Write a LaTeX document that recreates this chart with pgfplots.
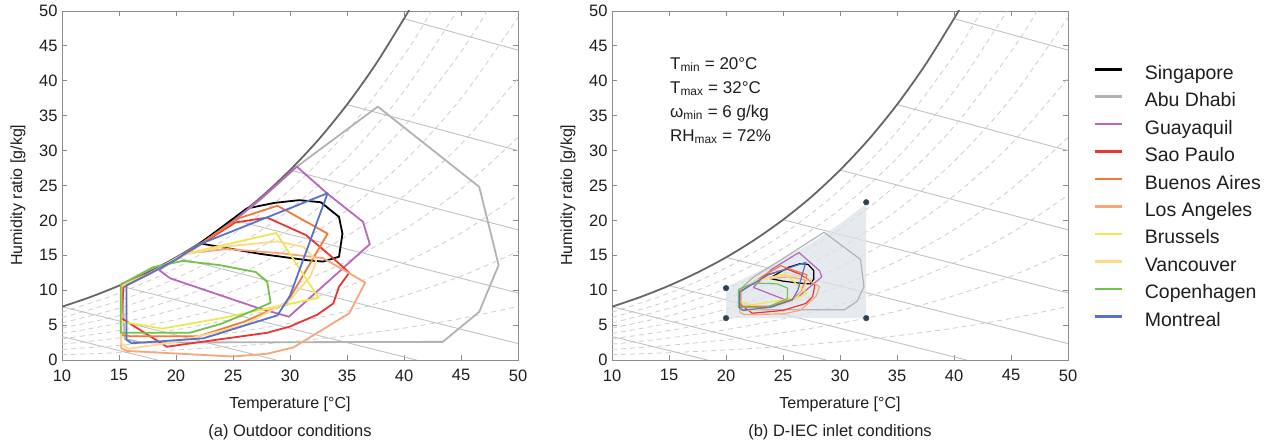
\documentclass[border=0pt]{standalone}
\usepackage{fontspec}
\setmainfont{Liberation Sans}
\usepackage{pgfplots}
\pgfplotsset{compat=1.18}

\definecolor{sing}{HTML}{000000}
\definecolor{abud}{HTML}{B3B3B3}
\definecolor{guay}{HTML}{B966BC}
\definecolor{saop}{HTML}{EE3333}
\definecolor{buen}{HTML}{F27A38}
\definecolor{losa}{HTML}{F9A577}
\definecolor{brus}{HTML}{EEE84E}
\definecolor{vanc}{HTML}{FDD98E}
\definecolor{cope}{HTML}{72C24C}
\definecolor{mont}{HTML}{5572CF}
\definecolor{satc}{HTML}{666666}
\definecolor{gridc}{HTML}{CDCDCD}
\definecolor{wbc}{HTML}{C2C2C2}
\definecolor{zonec}{HTML}{DCE3E8}
\definecolor{dotc}{HTML}{2E4352}
\definecolor{txt}{HTML}{1E1E1E}

% psychrometric background: RH lines (10..90 %), wet-bulb lines, saturation
\newcommand\psybg{%
\addplot[gridc, dash pattern=on 5pt off 4pt, line width=0.8pt, smooth, forget plot] coordinates {(10,0.755)(15,1.049)(20,1.439)(25,1.952)(30,2.618)(35,3.475)(40,4.567)(45,5.946)(50,7.676)};
\addplot[gridc, dash pattern=on 5pt off 4pt, line width=0.8pt, smooth, forget plot] coordinates {(10,1.512)(15,2.101)(20,2.885)(25,3.916)(30,5.258)(35,6.989)(40,9.201)(45,12.008)(50,15.54)};
\addplot[gridc, dash pattern=on 5pt off 4pt, line width=0.8pt, smooth, forget plot] coordinates {(10,2.270)(15,3.157)(20,4.338)(25,5.893)(30,7.921)(35,10.542)(40,13.904)(45,18.187)(50,23.61)};
\addplot[gridc, dash pattern=on 5pt off 4pt, line width=0.8pt, smooth, forget plot] coordinates {(10,3.031)(15,4.217)(20,5.798)(25,7.882)(30,10.606)(35,14.136)(40,18.678)(45,24.487)(50,31.89)};
\addplot[gridc, dash pattern=on 5pt off 4pt, line width=0.8pt, smooth, forget plot] coordinates {(10,3.793)(15,5.280)(20,7.264)(25,9.884)(30,13.314)(35,17.771)(40,23.524)(45,30.914)(50,40.37)};
\addplot[gridc, dash pattern=on 5pt off 4pt, line width=0.8pt, smooth, forget plot] coordinates {(10,4.557)(15,6.347)(20,8.737)(25,11.899)(30,16.046)(35,21.448)(40,28.444)(45,37.469)(50,49.08)};
\addplot[gridc, dash pattern=on 5pt off 4pt, line width=0.8pt, smooth, forget plot] coordinates {(10,5.323)(15,7.417)(20,10.217)(25,13.926)(30,18.801)(35,25.167)(40,33.440)(45,44.157)(47.3,50.05)};
\addplot[gridc, dash pattern=on 5pt off 4pt, line width=0.8pt, smooth, forget plot] coordinates {(10,6.091)(15,8.491)(20,11.704)(25,15.967)(30,21.580)(35,28.929)(40,38.512)(44.65,50.0)};
\addplot[gridc, dash pattern=on 5pt off 4pt, line width=0.8pt, smooth, forget plot] coordinates {(10,6.860)(15,9.569)(20,13.198)(25,18.021)(30,24.384)(35,32.736)(40,43.664)(42.4,50.0)};
\addplot[wbc, line width=0.9pt, forget plot] coordinates {(10,3.37)(18.37,0)};
\addplot[wbc, line width=0.9pt, forget plot] coordinates {(10,7.63)(28.8,0)};
\addplot[wbc, line width=0.9pt, forget plot] coordinates {(15,10.65)(41.1,0)};
\addplot[wbc, line width=0.9pt, forget plot] coordinates {(20,14.70)(50,2.35)};
\addplot[wbc, line width=0.9pt, forget plot] coordinates {(25,20.09)(50,9.61)};
\addplot[wbc, line width=0.9pt, forget plot] coordinates {(30,27.21)(50,18.65)};
\addplot[wbc, line width=0.9pt, forget plot] coordinates {(35,36.59)(50,30.0)};
\addplot[wbc, line width=0.9pt, forget plot] coordinates {(40,48.90)(50,44.4)};
\addplot[satc, line width=1.8pt, smooth, forget plot] coordinates {(10,7.632)(12.5,9.028)(15,10.651)(17.5,12.535)(20,14.70)(22.5,17.21)(25,20.09)(27.5,23.39)(30,27.21)(32.5,31.57)(35,36.59)(37.5,42.33)(40,48.90)(40.5,50.3)};
}

\tikzset{capt/.style={font=\fontsize{16.5}{19}\selectfont, text=txt}}
\pgfplotsset{
  psy/.style={
    scale only axis, width=456pt, height=349pt,
    xmin=10, xmax=50, ymin=0, ymax=50,
    xtick={10,15,...,50}, ytick={0,5,...,50},
    tick align=inside, tick pos=both, major tick length=5pt,
    axis line style={draw=black!45, line width=0.8pt},
    every tick/.append style={black!45, line width=0.8pt},
    tick label style={font=\fontsize{16.5}{19}\selectfont, text=txt},
    /pgf/number format/assume math mode=true,
    xticklabel style={yshift=-6pt},
    yticklabel style={xshift=-1pt},
    label style={font=\fontsize{16}{19}\selectfont, text=txt},
    xlabel={Temperature [°C]}, ylabel={Humidity ratio [g/kg]},
    xlabel style={at={(axis description cs:0.5,-0.128)}, anchor=center},
    ylabel style={at={(axis description cs:-0.0965,0.472)}, anchor=center},
  },
  city/.style={line width=1.8pt, line join=round},
  cityb/.style={line width=1.2pt, line join=round},
}

\begin{document}
\begin{tikzpicture}
\path[use as bounding box] (0,0) rectangle (1268pt,444pt);

% (a) outdoor conditions
\begin{axis}[psy, at={(62pt,84pt)}, anchor=south west,
  after end axis/.code={\node[capt] at (axis description cs:0.5,-0.206) {(a) Outdoor conditions};}]
\psybg
\addplot[city, sing] coordinates {(22.1,16.7)(26.2,21.7)(28.6,22.5)(30.8,22.9)(32.7,22.6)(34.3,20.5)(34.6,18.1)(34.3,14.8)(32.9,14.1)(31.5,14.3)(27.4,15.2)(22.1,16.7)};
\addplot[city, abud] coordinates {(15.3,10.55)(17.5,12.2)(20,14.4)(22.5,16.9)(25,19.8)(27.5,23.1)(30.6,27.7)(37.7,36.3)(46.6,24.8)(48.3,13.6)(46.6,6.9)(43.4,2.6)(17,2.5)(15.5,3.0)(15.3,10.55)};
\addplot[city, guay] coordinates {(18.5,12.9)(19.5,11.7)(27.1,7.5)(29.9,6.2)(37.0,16.6)(36.4,19.8)(33.3,23.8)(30.6,27.7)(27.5,23.2)(25,19.9)(22.5,17.0)(20,14.4)(18.5,12.9)};
\addplot[city, saop] coordinates {(15.4,10.5)(15.2,6.0)(19.2,1.9)(24,3.0)(28.0,3.9)(30,4.8)(32.4,6.5)(33.8,8.1)(34.3,10.5)(35.2,12.5)(33.5,15.0)(31.4,17.9)(28.0,20.4)(25.2,19.7)(22.5,16.9)(20,14.4)(17.5,12.2)(15.4,10.5)};
\addplot[city, buen] coordinates {(15.2,10.9)(15.2,3.6)(16,3.4)(22,3.4)(26,5.5)(28.5,7.3)(29.7,8.1)(33.3,18.1)(28.9,22.1)(25.5,20.3)(22.5,17.0)(20,14.5)(17.5,12.3)(15.2,10.9)};
\addplot[city, losa] coordinates {(15.2,10.7)(15.2,3.8)(15.2,1.7)(15.7,1.3)(25.0,0.5)(28.0,0.9)(30.3,1.8)(35.2,6.7)(36.6,11.1)(32.9,14.6)(29.1,15.3)(24.5,15.9)(21,15.3)(20,14.4)(17.5,12.2)(15.2,10.7)};
\addplot[city, brus] coordinates {(15.2,10.6)(15.2,5.5)(18.8,4.5)(24,6.0)(29.5,7.9)(32.5,8.9)(28.8,18.2)(20.8,15.2)(17.5,12.2)(15.2,10.6)};
\addplot[city, vanc] coordinates {(15.2,10.6)(15.2,2.4)(15.8,1.6)(20,2.6)(26,5.0)(30.0,8.6)(31.8,12.0)(32.3,14.2)(31.2,16.2)(28.9,17.0)(24,16.2)(20.5,15.0)(17.5,12.2)(15.2,10.6)};
\addplot[city, cope] coordinates {(15.15,10.8)(15.15,3.9)(21.2,3.9)(24,5.2)(26.5,6.9)(28.3,8.2)(28.0,11.2)(27.0,12.6)(23.8,13.6)(20.6,14.2)(18,13.3)(15.15,10.8)};
\addplot[city, mont] coordinates {(15.65,10.7)(15.65,2.9)(16.1,2.4)(22.4,3.1)(28.9,6.4)(30.0,9.2)(33.3,23.9)(22.1,16.6)(20,14.4)(17.5,12.2)(15.65,10.7)};
\end{axis}

% (b) D-IEC inlet conditions
\begin{axis}[psy, at={(612pt,84pt)}, anchor=south west,
  after end axis/.code={\node[capt] at (axis description cs:0.5,-0.206) {(b) D-IEC inlet conditions};},
  legend style={at={(axis description cs:1.055,0.845)}, anchor=north west,
    draw=none, fill=none, inner sep=0pt,
    font=\fontsize{19.5}{22}\selectfont, text=txt,
    nodes={inner sep=0pt, text height=14pt, text depth=4pt},
    row sep=9.44pt,
    /tikz/every odd column/.append style={column sep=22pt}},
  legend cell align=left,
  legend image code/.code={\draw[line width=2.6pt] (0pt,5pt) -- (27pt,5pt);}]
\psybg
\addplot[fill=zonec, draw=none, fill opacity=0.75, forget plot] coordinates {(20,6)(32.3,6)(32.3,22.4)(30,19.5)(27.5,16.8)(25,14.5)(22.5,12.4)(20.2,10.6)(20,10.6)(20,6)};
\addplot[cityb, sing] coordinates {(23.8,11.7)(25.5,13.3)(26.5,13.8)(27.2,13.7)(27.7,12.8)(27.7,11.6)(27.4,10.9)(26.5,11.0)(25,11.3)(23.8,11.7)};
\addplot[cityb, abud] coordinates {(21.2,10.1)(21.2,7.4)(21.5,7.2)(30.4,7.2)(31.5,8.4)(32.1,10.5)(31.8,14.4)(28.6,18.3)(26.2,15.8)(24,13.5)(22.5,12.0)(21.2,10.1)};
\addplot[cityb, guay] coordinates {(22.4,10.4)(25.4,8.5)(26.3,9.0)(28.4,11.9)(28.2,12.8)(26.4,15.4)(24,13.0)(22.4,10.4)};
\addplot[cityb, saop] coordinates {(21.3,9.8)(21.3,7.9)(22.3,6.7)(25,7.1)(27,8.1)(27.6,9.1)(27.8,10.8)(26.5,12.3)(25.4,13.0)(23.5,12.2)(21.3,9.8)};
\addplot[cityb, buen] coordinates {(21.2,9.9)(21.2,7.7)(24,7.7)(26.0,8.9)(26.6,9.8)(27.1,12.2)(24.8,13.5)(23.5,12.3)(21.2,9.9)};
\addplot[cityb, losa] coordinates {(21.2,9.9)(21.2,6.9)(21.6,6.5)(25,6.6)(26.5,7.1)(27.9,9.1)(28.2,10.5)(27.3,11.4)(25.5,11.9)(23.0,11.6)(21.2,9.9)};
\addplot[cityb, brus] coordinates {(21.2,9.8)(21.2,8.4)(22.2,7.9)(25,8.6)(26.6,9.1)(27.1,9.6)(25.2,12.3)(22.7,11.5)(21.2,9.8)};
\addplot[cityb, vanc] coordinates {(21.2,9.8)(21.2,7.2)(21.6,7.0)(24,7.5)(26.0,8.6)(26.9,10.3)(27.1,11.5)(26.5,12.0)(25.2,12.1)(22.7,11.4)(21.2,9.8)};
\addplot[cityb, cope] coordinates {(21.1,10.1)(21.1,7.5)(23.5,7.5)(25.4,8.8)(25.4,10.3)(24.5,10.9)(22.9,11.0)(21.9,10.7)(21.1,10.1)};
\addplot[cityb, mont] coordinates {(21.2,9.8)(21.2,7.4)(21.5,7.1)(24,7.6)(25.8,8.6)(26.3,10.0)(27.0,14.0)(23.7,12.2)(21.2,9.8)};
\addplot[only marks, mark=*, mark size=2.8pt, dotc, forget plot] coordinates {(20,10.3)(20,6)(32.3,6)(32.3,22.6)};
\legend{Singapore, Abu Dhabi, Guayaquil, Sao Paulo, Buenos Aires, Los Angeles, Brussels, Vancouver, Copenhagen, Montreal}
\node[anchor=north west, align=left, inner sep=0pt, font=\fontsize{17}{24}\selectfont, text=txt] at (axis description cs:0.127,0.868)
  {T\textsubscript{min} = 20°C\\T\textsubscript{max} = 32°C\\ω\textsubscript{min} = 6 g/kg\\RH\textsubscript{max} = 72\%};
\end{axis}
\end{tikzpicture}
\end{document}
